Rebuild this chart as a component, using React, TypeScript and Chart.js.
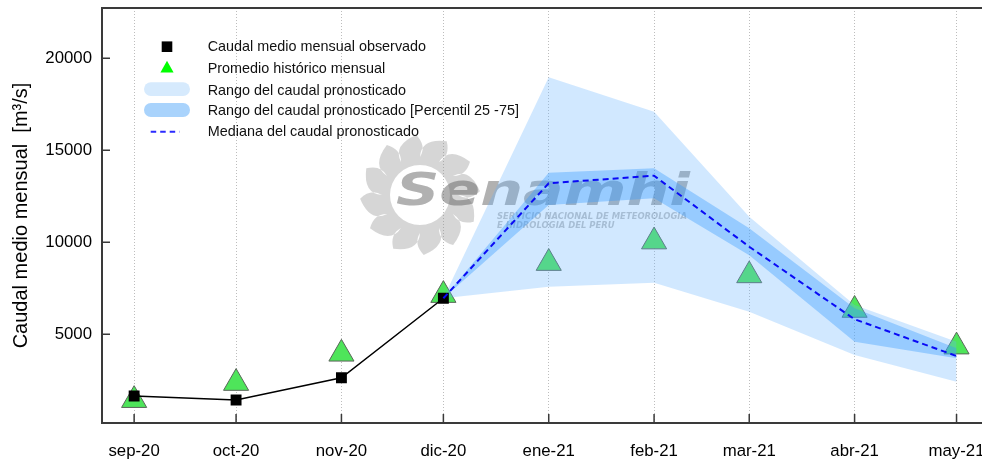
import React, { useEffect, useRef } from 'react';
import { Chart, registerables } from 'chart.js';

Chart.register(...registerables);

// ---------- data ----------
const monthDates = ['2020-09-01', '2020-10-01', '2020-11-01', '2020-12-01', '2021-01-01', '2021-02-01', '2021-03-01', '2021-04-01', '2021-05-01'];
const monthLabels = ['sep-20', 'oct-20', 'nov-20', 'dic-20', 'ene-21', 'feb-21', 'mar-21', 'abr-21', 'may-21'];
const yTickValues = [5000, 10000, 15000, 20000];

// observed monthly mean discharge (sep-20 .. dic-20)
const observed = [1650, 1430, 2640, 6960];
// historical monthly average (sep-20 .. may-21)
const historical = [1420, 2350, 3940, 7130, 8870, 10040, 8200, 6320, 4330];
// forecast (dic-20 .. may-21)
const forecastStart = 3;
const forecastMin = [6960, 7590, 7800, 6230, 3880, 2420];
const forecastMax = [6960, 18970, 17100, 11390, 6590, 4600];
const forecastP25 = [6960, 12030, 12400, 9300, 4600, 3700];
const forecastP75 = [6960, 13780, 14020, 10760, 6410, 4240];
const forecastMedian = [6960, 13210, 13620, 9760, 5820, 3820];

const legendLabels = [
  'Caudal medio mensual observado',
  'Promedio histórico mensual',
  'Rango del caudal pronosticado',
  'Rango del caudal pronosticado [Percentil 25 -75]',
  'Mediana del caudal pronosticado',
];
const yTitle = 'Caudal medio mensual  [m³/s]';
const watermarkTitle = 'Senamhi';
const watermarkLines = ['SERVICIO NACIONAL DE METEOROLOGIA', 'E HIDROLOGIA DEL PERU'];

// ---------- helpers ----------
const FONT = '"Liberation Sans", Arial, Helvetica, sans-serif';
const DAY = 86400000;
const xs = monthDates.map((d) => (Date.parse(d) - Date.parse(monthDates[0])) / DAY);
const pts = (vals: number[], start = 0) => vals.map((v, i) => ({ x: xs[start + i], y: v }));

const watermarkPlugin = {
  id: 'watermark',
  beforeDatasetsDraw(chart: any) {
    const ctx = chart.ctx as CanvasRenderingContext2D;
    ctx.save();
    const cx = 420, cy = 195;
    const n = 12, R = 60, r = 38;
    ctx.fillStyle = 'rgba(140,140,140,0.36)';
    ctx.beginPath();
    for (let i = 0; i < n; i++) {
      const a0 = (i / n) * Math.PI * 2 - Math.PI / 2;
      const a1 = a0 + (Math.PI * 2) / n;
      const am = a0 + Math.PI / n;
      const p0x = cx + r * Math.cos(a0), p0y = cy + r * Math.sin(a0);
      const tipx = cx + R * Math.cos(am + 0.2), tipy = cy + R * Math.sin(am + 0.2);
      const p1x = cx + r * Math.cos(a1), p1y = cy + r * Math.sin(a1);
      if (i === 0) ctx.moveTo(p0x, p0y);
      ctx.quadraticCurveTo(cx + R * 0.95 * Math.cos(a0 + 0.02), cy + R * 0.95 * Math.sin(a0 + 0.02), tipx, tipy);
      ctx.quadraticCurveTo(cx + r * 1.3 * Math.cos(am + 0.4), cy + r * 1.3 * Math.sin(am + 0.4), p1x, p1y);
    }
    ctx.closePath();
    ctx.moveTo(cx + 30, cy);
    ctx.arc(cx, cy, 30, 0, Math.PI * 2, true);
    ctx.fill('evenodd');

    // big title
    ctx.font = `italic bold 44px "DejaVu Sans", ${FONT}`;
    ctx.fillStyle = 'rgba(100,100,100,0.5)';
    ctx.textBaseline = 'alphabetic';
    ctx.textAlign = 'left';
    const w = ctx.measureText(watermarkTitle).width;
    ctx.save();
    ctx.translate(396, 205);
    ctx.scale(294 / w, 1);
    ctx.fillText(watermarkTitle, 0, 0);
    ctx.restore();

    ctx.font = `italic bold 9.5px "DejaVu Sans", ${FONT}`;
    ctx.fillStyle = 'rgba(120,120,120,0.45)';
    const w1 = ctx.measureText(watermarkLines[0]).width;
    const sx = 190 / w1;
    watermarkLines.forEach((line, i) => {
      ctx.save();
      ctx.translate(497, 219 + i * 9);
      ctx.scale(sx, 1);
      ctx.fillText(line, 0, 0);
      ctx.restore();
    });
    ctx.restore();
  },
};

const framePlugin = {
  id: 'frame',
  afterDatasetsDraw(chart: any) {
    const ctx = chart.ctx as CanvasRenderingContext2D;
    const { left, right, top, bottom } = chart.chartArea;
    const xScale = chart.scales.x;
    const yScale = chart.scales.y;
    ctx.save();
    ctx.strokeStyle = '#3a3a3a';
    ctx.lineWidth = 2;
    ctx.beginPath();
    ctx.moveTo(left + 1, top);
    ctx.lineTo(left + 1, bottom);
    ctx.moveTo(left, top);
    ctx.lineTo(right, top);
    ctx.lineTo(right, bottom);
    ctx.moveTo(left, bottom);
    ctx.lineTo(right, bottom);
    ctx.stroke();
    ctx.lineWidth = 1.5;
    ctx.beginPath();
    yScale.ticks.forEach((t: any) => {
      const y = yScale.getPixelForValue(t.value);
      ctx.moveTo(left, y);
      ctx.lineTo(left + 9, y);
    });
    xScale.ticks.forEach((t: any) => {
      const x = xScale.getPixelForValue(t.value);
      ctx.moveTo(x, bottom);
      ctx.lineTo(x, bottom - 9);
    });
    ctx.stroke();
    ctx.restore();
  },
};

const legendPlugin = {
  id: 'customLegend',
  afterDraw(chart: any) {
    const ctx = chart.ctx as CanvasRenderingContext2D;
    const rows = [46.7, 69.0, 90.6, 111.3, 132.2];
    const sx = 167;
    ctx.save();
    ctx.fillStyle = '#000';
    ctx.fillRect(sx - 5.3, rows[0] - 5.3, 10.6, 10.6);
    ctx.fillStyle = '#00ff00';
    ctx.beginPath();
    ctx.moveTo(sx, rows[1] - 8.2);
    ctx.lineTo(sx + 6.6, rows[1] + 3.4);
    ctx.lineTo(sx - 6.6, rows[1] + 3.4);
    ctx.closePath();
    ctx.fill();
    const pill = (y: number, color: string) => {
      ctx.fillStyle = color;
      ctx.beginPath();
      (ctx as any).roundRect(sx - 23, y - 6.9, 46, 13.8, 6.9);
      ctx.fill();
    };
    pill(rows[2] - 1.5, '#d6eafd');
    pill(rows[3] - 1.3, '#a9d3fc');
    ctx.strokeStyle = '#2b2bff';
    ctx.lineWidth = 2;
    ctx.setLineDash([5.5, 4]);
    ctx.beginPath();
    ctx.moveTo(sx - 16.3, rows[4] - 0.5);
    ctx.lineTo(sx + 12.5, rows[4] - 0.5);
    ctx.stroke();
    ctx.setLineDash([]);
    ctx.fillStyle = '#111';
    ctx.font = `14.4px ${FONT}`;
    ctx.textBaseline = 'middle';
    ctx.textAlign = 'left';
    legendLabels.forEach((t, i) => ctx.fillText(t, 207.7, rows[i]));
    ctx.restore();
  },
};

export default function App() {
  const ref = useRef<HTMLCanvasElement | null>(null);

  useEffect(() => {
    if (!ref.current) return;
    const chart = new Chart(ref.current, {
      type: 'line',
      data: {
        datasets: [
          {
            label: 'min',
            data: pts(forecastMin, forecastStart),
            borderColor: 'rgba(0,0,0,0)',
            borderWidth: 0,
            pointRadius: 0,
            fill: false,
            order: 8,
          },
          {
            label: legendLabels[2],
            data: pts(forecastMax, forecastStart),
            borderColor: 'rgba(0,0,0,0)',
            borderWidth: 0,
            pointRadius: 0,
            fill: '-1',
            backgroundColor: 'rgba(102,178,255,0.3)',
            order: 7,
          },
          {
            label: 'p25',
            data: pts(forecastP25, forecastStart),
            borderColor: 'rgba(0,0,0,0)',
            borderWidth: 0,
            pointRadius: 0,
            fill: false,
            order: 6,
          },
          {
            label: legendLabels[3],
            data: pts(forecastP75, forecastStart),
            borderColor: 'rgba(0,0,0,0)',
            borderWidth: 0,
            pointRadius: 0,
            fill: '-1',
            backgroundColor: 'rgba(51,153,255,0.36)',
            order: 5,
          },
          {
            label: legendLabels[4],
            data: pts(forecastMedian, forecastStart),
            borderColor: '#0a0af5',
            borderWidth: 2,
            borderDash: [6, 4],
            pointRadius: 0,
            fill: false,
            order: 0,
          },
          {
            label: legendLabels[0],
            data: pts(observed),
            borderColor: '#000',
            borderWidth: 1.5,
            pointStyle: 'rect',
            pointRadius: 7.7,
            pointBackgroundColor: '#000',
            pointBorderColor: '#000',
            pointBorderWidth: 0,
            fill: false,
            order: 1,
          },
          {
            label: legendLabels[1],
            data: pts(historical),
            showLine: false,
            pointStyle: 'triangle',
            pointRadius: 14.5,
            pointBackgroundColor: '#4ee55a',
            pointBorderColor: '#5a665a',
            pointBorderWidth: 1,
            fill: false,
            order: 10,
          },
        ],
      },
      options: {
        animation: false,
        responsive: false,
        devicePixelRatio: 1,
        layout: { autoPadding: false, padding: { left: 0, top: 8, right: 20.5, bottom: 0 } },
        plugins: { legend: { display: false }, tooltip: { enabled: false } },
        scales: {
          x: {
            type: 'linear',
            min: -9.75,
            max: 251.7,
            afterBuildTicks: (s: any) => {
              s.ticks = xs.map((v) => ({ value: v }));
            },
            afterFit: (s: any) => {
              s.height = 40;
              s.paddingLeft = 0;
              s.paddingRight = 0;
              s.paddingTop = 0;
              s.paddingBottom = 0;
            },
            ticks: {
              autoSkip: false,
              maxRotation: 0,
              minRotation: 0,
              padding: 18.6,
              color: '#000',
              font: { family: FONT, size: 16.8 },
              callback: (v: any) => monthLabels[xs.indexOf(Number(v))] ?? '',
            },
            grid: {
              display: true,
              drawOnChartArea: true,
              drawTicks: false,
              color: '#bdbdbd',
              lineWidth: 1,
            },
            border: { display: false, dash: [1, 2] },
          },
          y: {
            type: 'linear',
            min: 180,
            max: 22735,
            afterBuildTicks: (s: any) => {
              s.ticks = yTickValues.map((v) => ({ value: v }));
            },
            afterFit: (s: any) => {
              s.width = 101;
              s.paddingLeft = 0;
              s.paddingRight = 0;
              s.paddingTop = 0;
              s.paddingBottom = 0;
            },
            ticks: {
              padding: 0,
              color: '#000',
              font: { family: FONT, size: 16.8, lineHeight: 0.8 },
              callback: (v: any) => String(v),
            },
            grid: {
              display: true,
              drawOnChartArea: false,
              drawTicks: true,
              tickLength: 9,
              tickColor: 'rgba(0,0,0,0)',
            },
            border: { display: false },
            title: {
              display: true,
              text: yTitle,
              color: '#000',
              font: { family: FONT, size: 20, lineHeight: 1.2 },
              padding: { top: 9.7, bottom: 0 },
            },
          },
        },
      },
      plugins: [watermarkPlugin, framePlugin, legendPlugin],
    } as any);
    return () => chart.destroy();
  }, []);

  return (
    <div style={{ position: 'fixed', left: 0, top: 0, width: 982, height: 463, overflow: 'hidden', background: '#fff' }}>
      <canvas ref={ref} width={1010} height={463} style={{ display: 'block', width: 1010, height: 463 }} />
    </div>
  );
}
